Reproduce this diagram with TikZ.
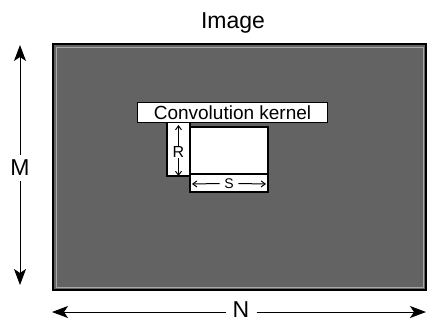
\documentclass[tikz,border=0pt]{standalone}
\usepackage{fontspec}
\setmainfont{Liberation Sans}
\usetikzlibrary{arrows.meta}
\definecolor{imggray}{HTML}{636363}
\definecolor{rimgray}{HTML}{A8A8A8}
\begin{document}
\begin{tikzpicture}[x=1pt,y=-1pt,
  dimline/.style={line width=1pt,-{Stealth[length=16pt,width=12pt,inset=4pt]}},
  smallarr/.style={line width=1pt,-{Straight Barb[length=4pt,width=6pt]}},
  panel/.style={draw=black,line width=1.3pt,fill=white},
  bigtxt/.style={font=\fontsize{23}{23}\selectfont,inner sep=1pt},
  smalltxt/.style={font=\fontsize{16}{16}\selectfont,inner sep=0.5pt}]
\useasboundingbox (0,0) rectangle (427,322);
% image area
\fill[imggray] (53,44) rectangle (426,290);
\draw[rimgray,line width=1pt] (56,47) rectangle (423,287);
\draw[black,line width=1.8pt] (53,44) rectangle (426,290);
\node[bigtxt] (title) at (233,23) {Image};
% M dimension
\node[bigtxt] (mlab) at (20,168) {M};
\coordinate (mtop) at (20,45);
\coordinate (mbot) at (20,285);
\draw[dimline] (mlab.north) ++(0,-4) -- (mtop);
\draw[dimline] (mlab.south) ++(0,4) -- (mbot);
% N dimension
\node[bigtxt,inner sep=0pt] (nlab) at (241,310) {N};
\coordinate (nleft) at (52,312);
\coordinate (nright) at (426,312);
\draw[dimline] (nlab.west) ++(-7,2) -- (nleft);
\draw[dimline] (nlab.east) ++(7,2) -- (nright);
% kernel
\draw[panel] (167,122) rectangle (190,176);
\draw[panel] (190,174) rectangle (268,192);
\draw[panel] (190,127) rectangle (268,174);
\node[panel,minimum width=190pt,minimum height=20pt,inner sep=0pt,
  font=\fontsize{19}{19}\selectfont] (kern) at (232.5,112.5) {Convolution kernel};
% R dimension
\node[smalltxt] (rlab) at (178.5,152) {R};
\coordinate (rtop) at (178.5,125);
\coordinate (rbot) at (178.5,176);
\draw[smallarr] (rlab.north) -- (rtop);
\draw[smallarr] (rlab.south) -- (rbot);
% S dimension
\node[font=\fontsize{14}{14}\selectfont,inner sep=0.5pt] (slab) at (229,183.5) {S};
\coordinate (sleft) at (192,184);
\coordinate (sright) at (266,184);
\draw[smallarr] (slab.west) ++(-4,0) -- (sleft);
\draw[smallarr] (slab.east) ++(4,0) -- (sright);
\end{tikzpicture}
\end{document}
